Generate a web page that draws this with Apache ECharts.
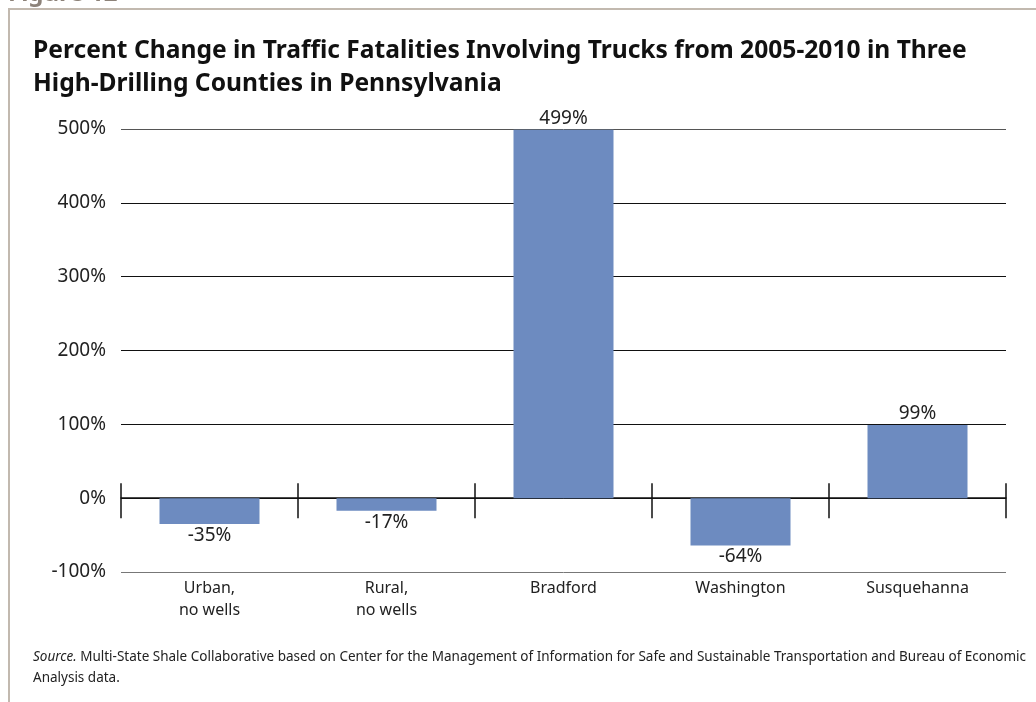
<!DOCTYPE html>
<html>
<head>
<meta charset="utf-8">
<script src="https://cdn.jsdelivr.net/npm/echarts@6/dist/echarts.min.js"></script>
<style>
html, body { margin: 0; padding: 0; background: #fff; }
#chart { width: 1036px; height: 702px; }
</style>
</head>
<body>
<div id="chart"></div>
<script>
// chart data
var categories = ['Urban,\nno wells', 'Rural,\nno wells', 'Bradford', 'Washington', 'Susquehanna'];
var pctChange = [-35, -17, 499, -64, 99];
var yTicks = [-100, 0, 100, 200, 300, 400, 500];

var fontFam = '"Noto Sans", "Open Sans", sans-serif';

// negative bars get their label under the bar
var barData = pctChange.map(function (v) {
  if (v < 0) return { value: v, label: { position: 'bottom' } };
  return v;
});

chart = {
  animation: false,
  backgroundColor: '#fff',
  textStyle: { fontFamily: fontFam },
  grid: { left: 121, right: 30, top: 129, bottom: 130 },
  graphic: [
    { type: 'text', left: 8, top: -18, style: { text: 'Figure 12', font: 'bold 24px ' + fontFam, fill: '#8c8279' } },
    { type: 'rect', shape: { x: 8, y: 8, width: 1030, height: 2 }, style: { fill: '#c2b9af' } },
    { type: 'rect', shape: { x: 8, y: 8, width: 2, height: 700 }, style: { fill: '#c2b9af' } },
    { type: 'text', left: 33, top: 34, style: {
        text: 'Percent Change in Traffic Fatalities Involving Trucks from 2005-2010 in Three\nHigh-Drilling Counties in Pennsylvania',
        font: 'bold 24.6px ' + fontFam, fill: '#111', lineHeight: 33 } },
    { type: 'text', left: 33, top: 650, style: {
        rich: {
          i: { fontStyle: 'italic', fontSize: 13.5, fontFamily: fontFam, fill: '#222', lineHeight: 21 },
          n: { fontSize: 13.5, fontFamily: fontFam, fill: '#222', lineHeight: 21 }
        },
        text: '{i|Source.}{n| Multi-State Shale Collaborative based on Center for the Management of Information for Safe and Sustainable Transportation and Bureau of Economic}\n{n|Analysis data.}'
      } }
  ],
  xAxis: [
    {
      type: 'category', data: categories, position: 'bottom',
      axisLine: { show: false, onZero: false }, axisTick: { show: false },
      axisLabel: { color: '#222', fontSize: 16, lineHeight: 22, margin: 5 }
    },
    {
      // zero line, ticks hanging below
      type: 'category', data: categories, position: 'bottom',
      axisLine: { show: true, onZero: true, onZeroAxisIndex: 0, lineStyle: { color: '#111', width: 1.5 } },
      axisTick: { show: true, length: 20, lineStyle: { color: '#111', width: 1.5 } },
      axisLabel: { show: false }
    },
    {
      // ticks rising above the zero line
      type: 'category', data: categories, position: 'top',
      axisLine: { show: false, onZero: true, onZeroAxisIndex: 0 },
      axisTick: { show: true, length: 15, lineStyle: { color: '#111', width: 1.5 } },
      axisLabel: { show: false }
    }
  ],
  yAxis: {
    type: 'value', min: yTicks[0], max: yTicks[yTicks.length - 1], interval: 100,
    axisLine: { show: false }, axisTick: { show: false },
    axisLabel: { formatter: '{value}%', color: '#222', fontSize: 19, margin: 15 },
    splitLine: { lineStyle: { color: ['#777', '#111', '#111', '#111', '#111', '#111', '#555'], width: 1 } }
  },
  series: [
    {
      type: 'bar', xAxisIndex: 0, data: barData, barWidth: 100,
      itemStyle: { color: '#6d8bc0' },
      label: { show: true, position: 'top', formatter: '{c}%', color: '#222', fontSize: 19, distance: 2 }
    }
  ]
};
echarts.init(document.getElementById('chart')).setOption(chart);
</script>
</body>
</html>
